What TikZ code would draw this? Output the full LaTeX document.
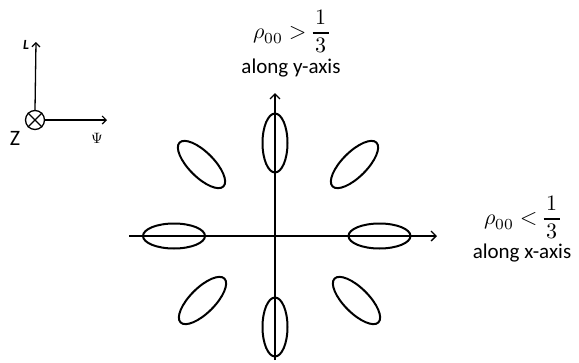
\documentclass[tikz,border=0pt]{standalone}
\usepackage{amsmath}
\usepackage{fontspec}
\usepackage{unicode-math}
\setmainfont{Carlito}
\usetikzlibrary{arrows.meta}
\newcommand{\fracbox}[2]{{\setlength{\arrayrulewidth}{0.6pt}\begin{array}{@{\hspace{1.2pt}}c@{\hspace{1.2pt}}}#1\\\hline #2\end{array}}}
\begin{document}
\begin{tikzpicture}[x=1pt,y=-1pt,
  axisline/.style={line width=1.5pt,-{Straight Barb[length=5pt,width=10pt,line width=1.3pt]}},
  lobe/.style={line width=2pt},
  framearrow/.style={line width=1.3pt,-{Straight Barb[length=4pt,width=8pt,line width=1.2pt]}},
  lbl/.style={font=\fontsize{21}{24}\selectfont, inner sep=0pt, anchor=base},
  mlbl/.style={inner sep=0pt}]
\useasboundingbox (0,0) rectangle (579,362);
% frame
\node[circle,draw,line width=1.3pt,minimum size=19pt,inner sep=0pt] (zc) at (35,120) {};
\draw[line width=1.2pt] (zc.north west) -- (zc.south east) (zc.north east) -- (zc.south west);
\coordinate (ltip) at (36,42);
\coordinate (ptip) at (107,120);
\draw[framearrow] (zc.north) -- (ltip);
\draw[framearrow] (zc.east) -- (ptip);
\node[font=\fontsize{14}{15}\selectfont\bfseries\itshape] (lL) at (26,45) {L};
\node[font=\fontsize{22}{24}\selectfont] (lZ) at (15,138) {Z};
\node (lP) at (97,138) {\scalebox{1.5}{$\Psi$}};
% axes
\coordinate (yb) at (275,360);
\coordinate (yt) at (275,93);
\coordinate (xl) at (129,236);
\coordinate (xr) at (437,236);
\draw[axisline] (yb) -- (yt);
\draw[axisline] (xl) -- (xr);
% lobes
\draw[lobe] (275,143) ellipse [x radius=12.5pt, y radius=29.5pt];
\draw[lobe] (275,327) ellipse [x radius=12.5pt, y radius=29.5pt];
\draw[lobe] (174,236) ellipse [x radius=31pt, y radius=12.5pt];
\draw[lobe] (379.5,236) ellipse [x radius=31pt, y radius=12.5pt];
\draw[lobe,shift={(201.5,164.5)},rotate=-45] (0,0) ellipse [x radius=31pt, y radius=12.5pt];
\draw[lobe,shift={(354.5,164.5)},rotate=45] (0,0) ellipse [x radius=31pt, y radius=12.5pt];
\draw[lobe,shift={(202.5,300.5)},rotate=45] (0,0) ellipse [x radius=31pt, y radius=12.5pt];
\draw[lobe,shift={(356.5,300.5)},rotate=-45] (0,0) ellipse [x radius=31pt, y radius=12.5pt];
% labels
\node[mlbl] (tm) at (291,33) {\scalebox{2.2}{$\rho_{00} > \fracbox{1}{3}$}};
\node[lbl] (tt) at (291,73) {along y-axis};
\node[mlbl] (rm) at (522,219) {\scalebox{2.2}{$\rho_{00} < \fracbox{1}{3}$}};
\node[lbl] (rt) at (522,258) {along x-axis};
\end{tikzpicture}
\end{document}
